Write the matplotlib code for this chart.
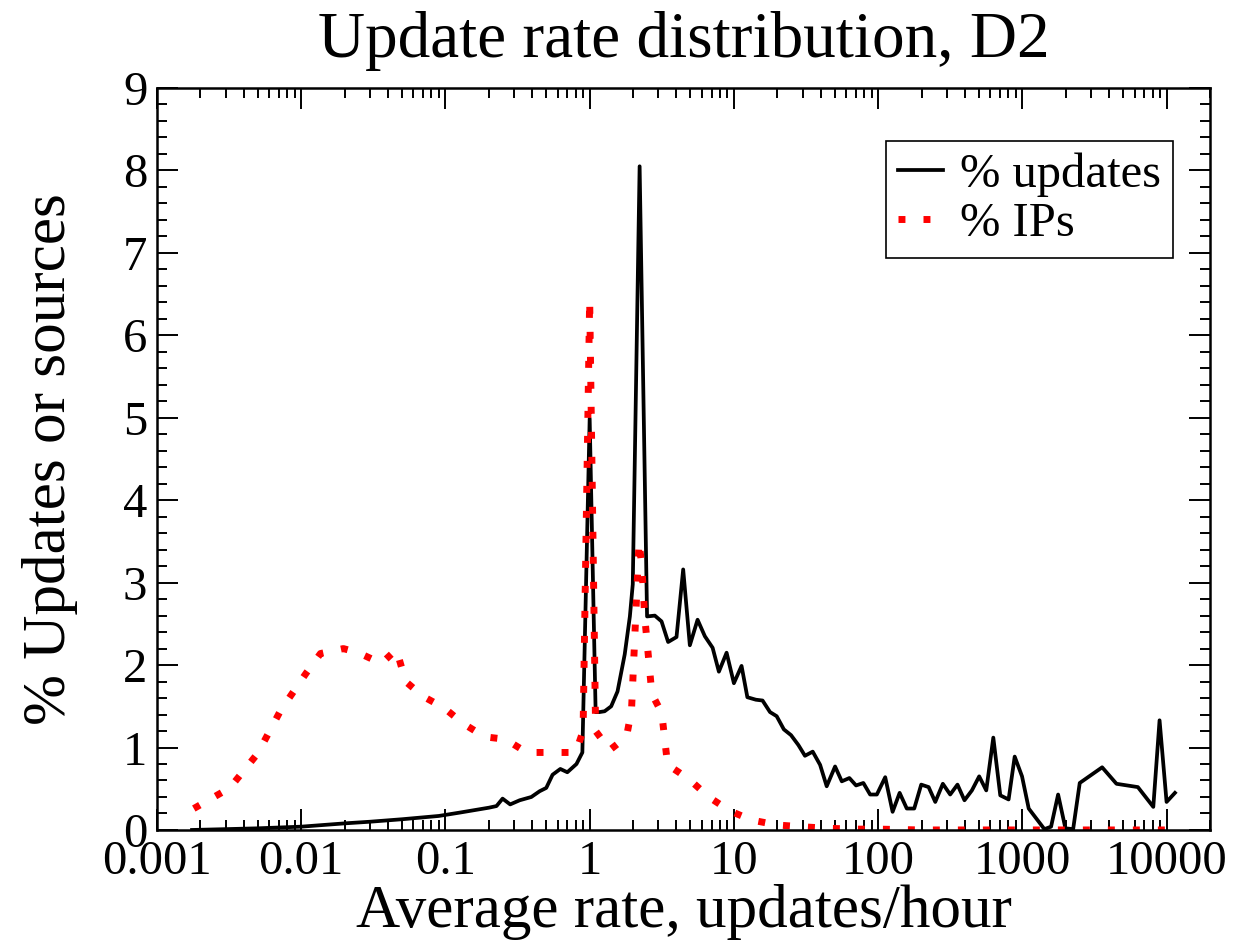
import matplotlib
matplotlib.use("Agg")
from matplotlib import pyplot as plt
from matplotlib.ticker import LogLocator, MultipleLocator, NullFormatter

plt.rcParams['font.family'] = ['Liberation Serif', 'DejaVu Serif']

# % of all updates per average-rate bin
upd_rate = [0.00175, 0.003, 0.005, 0.01, 0.02, 0.03, 0.05, 0.09, 0.125, 0.2,
            0.226, 0.249, 0.281, 0.327, 0.394, 0.45, 0.5, 0.553, 0.626, 0.70,
            0.81, 0.89, 1.0, 1.10, 1.17, 1.27, 1.41, 1.56, 1.75, 1.90,
            1.99, 2.22, 2.50, 2.83, 3.15, 3.50, 4.00, 4.45, 4.95, 5.60,
            6.29, 7.12, 7.87, 8.90, 10.0, 11.3, 12.4, 14.2, 15.8, 17.8,
            19.8, 22.2, 24.9, 28.0, 31.1, 35.2, 39.6, 44.0, 50.3, 56.0,
            63.2, 70.3, 79.0, 88.0, 98.0, 112, 126, 141, 158, 178,
            199, 224, 249, 281, 316, 355, 397, 447, 502, 562,
            629, 703, 803, 885, 995, 1107, 1422, 1582, 1770, 1989,
            2250, 2500, 3575, 4495, 6324, 8090, 8940, 10000, 11430]
upd_pct = [0.0, 0.01, 0.02, 0.04, 0.08, 0.10, 0.13, 0.17, 0.21, 0.27,
           0.29, 0.38, 0.31, 0.36, 0.40, 0.47, 0.51, 0.67, 0.74, 0.70,
           0.80, 0.94, 4.99, 1.43, 1.43, 1.44, 1.50, 1.68, 2.13, 2.59,
           2.98, 8.05, 2.59, 2.60, 2.53, 2.28, 2.34, 3.16, 2.24, 2.55,
           2.35, 2.21, 1.92, 2.15, 1.78, 1.99, 1.61, 1.58, 1.57, 1.43,
           1.38, 1.22, 1.15, 1.03, 0.90, 0.95, 0.79, 0.53, 0.77, 0.59,
           0.63, 0.54, 0.57, 0.43, 0.43, 0.64, 0.22, 0.45, 0.26, 0.26,
           0.55, 0.52, 0.34, 0.56, 0.43, 0.55, 0.36, 0.48, 0.65, 0.48,
           1.12, 0.42, 0.37, 0.89, 0.65, 0.26, 0.01, 0.04, 0.43, 0.02,
           0.01, 0.57, 0.76, 0.56, 0.52, 0.28, 1.33, 0.34, 0.45]

# % of source IPs per average-rate bin
ip_rate = [0.0018, 0.0032, 0.005, 0.0072, 0.0108, 0.0136, 0.0196, 0.0249, 0.036, 0.0457,
           0.053, 0.070, 0.098, 0.133, 0.187, 0.261, 0.366, 0.537, 0.80, 0.90,
           1.0, 1.1, 1.38, 1.8, 1.95, 2.2, 2.3, 2.41, 2.7, 3.16,
           3.47, 4.15, 5.0, 6.7, 9.4, 13.3, 20, 29, 45, 70,
           100, 200, 500, 1000, 2000, 5000, 10000]
ip_pct = [0.26, 0.51, 0.93, 1.45, 1.90, 2.14, 2.20, 2.15, 2.02, 2.19,
          1.80, 1.62, 1.48, 1.29, 1.13, 1.10, 0.94, 0.94, 0.94, 1.2,
          6.43, 1.2, 0.97, 1.13, 1.45, 3.5, 3.2, 2.58, 1.65, 1.42,
          0.79, 0.70, 0.60, 0.40, 0.23, 0.12, 0.06, 0.04, 0.02, 0.01,
          0.01, 0.0, 0.0, 0.0, 0.0, 0.0, 0.0]

x_ticks = [0.001, 0.01, 0.1, 1, 10, 100, 1000, 10000]
x_labels = ["0.001", "0.01", "0.1", "1", "10", "100", "1000", "10000"]

fig = plt.figure(figsize=(12.4, 9.44), dpi=100)
ax = fig.add_axes([0.1266, 0.1208, 0.8492, 0.786])

ax.plot(upd_rate, upd_pct, color='black', linewidth=2.7, label='% updates')
ax.plot(ip_rate, ip_pct, color='red', linewidth=5, dashes=(1, 2.6),
        label='% IPs')

ax.set_xscale('log')
ax.set_xlim(0.001, 20000)
ax.set_ylim(0, 9)
ax.set_xticks(x_ticks)
ax.set_xticklabels(x_labels)
ax.xaxis.set_minor_locator(LogLocator(base=10, subs=range(2, 10), numticks=20))
ax.xaxis.set_minor_formatter(NullFormatter())
ax.yaxis.set_major_locator(MultipleLocator(1))
ax.yaxis.set_minor_locator(MultipleLocator(0.2))

ax.tick_params(which='both', direction='in', top=True, right=True,
               width=1.4, labelsize=35)
ax.tick_params(which='major', length=15, pad=7)
ax.tick_params(which='minor', length=7.5)
for s in ax.spines.values():
    s.set_linewidth(1.8)

ax.set_title("Update rate distribution, D2", fontsize=47, pad=22)
ax.set_xlabel("Average rate, updates/hour", fontsize=44, labelpad=0)
ax.set_ylabel("% Updates or sources", fontsize=44, labelpad=32)

leg = ax.legend(loc='upper right', bbox_to_anchor=(0.965, 0.929),
                borderaxespad=0, fontsize=35, handlelength=0.93,
                handletextpad=0.35, borderpad=0.25, labelspacing=0.1,
                fancybox=False, framealpha=1, edgecolor='black')
leg.get_frame().set_linewidth(1.2)

plt.savefig('out.png', dpi=100)
